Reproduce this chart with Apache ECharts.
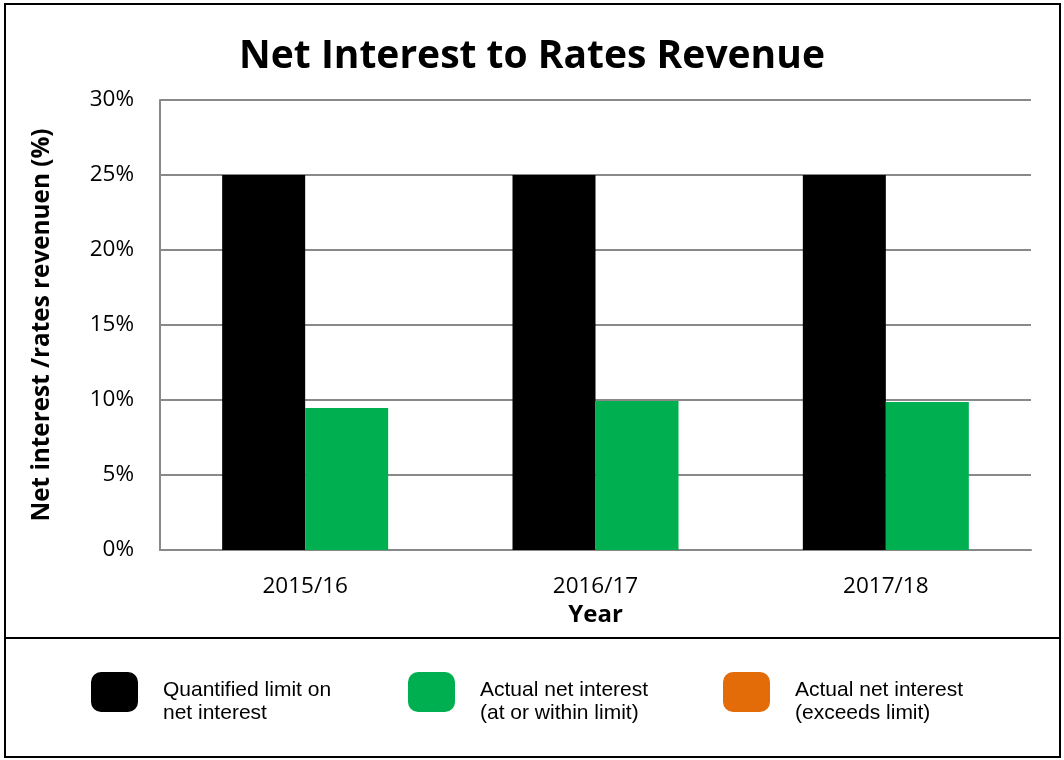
<!DOCTYPE html>
<html>
<head>
<meta charset="utf-8">
<script src="https://cdn.jsdelivr.net/npm/echarts@6/dist/echarts.min.js"></script>
<style>
  html, body { margin: 0; padding: 0; background: #fff; }
  #chart { width: 1064px; height: 760px; }
</style>
</head>
<body>
<div id="chart"></div>
<script>
// Net interest to rates revenue, by financial year
const years = ['2015/16', '2016/17', '2017/18'];
const limitValues = [25, 25, 25];          // quantified limit on net interest (%)
const withinValues = [9.47, 9.93, 9.87];   // actual net interest, at or within limit (%)
const exceedsValues = [null, null, null];  // actual net interest, exceeds limit (%)
const yTicks = [0, 5, 10, 15, 20, 25, 30];

const seriesNames = ['Quantified limit on\nnet interest', 'Actual net interest\n(at or within limit)', 'Actual net interest\n(exceeds limit)'];
const seriesColors = ['#000000', '#00b050', '#e36c09'];

const bodyFont = '"Open Sans", sans-serif';
const legendFont = '"Liberation Sans", Arial, sans-serif';

const chart = echarts.init(document.getElementById('chart'), null, { renderer: 'canvas' });

// one legend block per series, laid out in three columns;
// a short spacer line drops the two-line label a little below the swatch centre
function legendAt(left, idx) {
  return {
    data: [seriesNames[idx]],
    left: left,
    top: 667,
    padding: 0,
    orient: 'horizontal',
    icon: 'roundRect',
    itemWidth: 47,
    itemHeight: 40,
    selectedMode: false,
    formatter: name => '{gap| }\n' + name.split('\n').map(s => '{t|' + s + '}').join('\n'),
    textStyle: {
      fontFamily: legendFont,
      fontSize: 21,
      color: '#000',
      padding: [0, 0, 0, 20],
      rich: {
        gap: { fontSize: 4, lineHeight: 19 },
        t: { fontFamily: legendFont, fontSize: 21, color: '#000', lineHeight: 23 }
      }
    }
  };
}

chart.setOption({
  backgroundColor: '#fff',
  animation: false,
  title: {
    text: 'Net Interest to Rates Revenue',
    left: 'center',
    top: 32,
    textStyle: { fontFamily: bodyFont, fontSize: 39, fontWeight: 'bold', color: '#000' }
  },
  legend: [legendAt(91, 0), legendAt(408, 1), legendAt(723, 2)],
  grid: { left: 160, right: 33, top: 100, bottom: 210, containLabel: false },
  xAxis: {
    type: 'category',
    data: years,
    name: 'Year',
    nameLocation: 'middle',
    nameGap: 52,
    nameTextStyle: { fontFamily: bodyFont, fontSize: 24, fontWeight: 'bold', color: '#000' },
    axisLine: { lineStyle: { color: '#898989', width: 2 } },
    axisTick: { show: false },
    axisLabel: { fontFamily: bodyFont, fontSize: 22.5, color: '#000', margin: 25 }
  },
  yAxis: {
    type: 'value',
    min: 0,
    max: 30,
    interval: 5,
    name: 'Net interest /rates revenuen (%)',
    nameLocation: 'middle',
    nameGap: 106,
    nameRotate: 90,
    nameTextStyle: { fontFamily: bodyFont, fontSize: 24.3, fontWeight: 'bold', color: '#000' },
    axisLine: { show: true, lineStyle: { color: '#898989', width: 2 } },
    axisTick: { show: false },
    splitLine: { lineStyle: { color: '#898989', width: 2 } },
    axisLabel: {
      fontFamily: bodyFont, fontSize: 22.5, color: '#000', margin: 26,
      formatter: v => (yTicks.indexOf(v) >= 0 ? v + '%' : '')
    }
  },
  series: [
    { name: seriesNames[0], type: 'bar', data: limitValues, barWidth: 83, barGap: '0%',
      itemStyle: { color: seriesColors[0] } },
    { name: seriesNames[1], type: 'bar', stack: 'actual', data: withinValues, barWidth: 83,
      itemStyle: { color: seriesColors[1] } },
    { name: seriesNames[2], type: 'bar', stack: 'actual', data: exceedsValues, barWidth: 83,
      itemStyle: { color: seriesColors[2] } }
  ],
  graphic: [
    { type: 'rect', shape: { x: 5, y: 4, width: 1055, height: 753 },
      style: { fill: null, stroke: '#000', lineWidth: 2 }, silent: true },
    { type: 'line', shape: { x1: 5, y1: 638, x2: 1060, y2: 638 },
      style: { stroke: '#000', lineWidth: 2 }, silent: true }
  ]
});
</script>
</body>
</html>
